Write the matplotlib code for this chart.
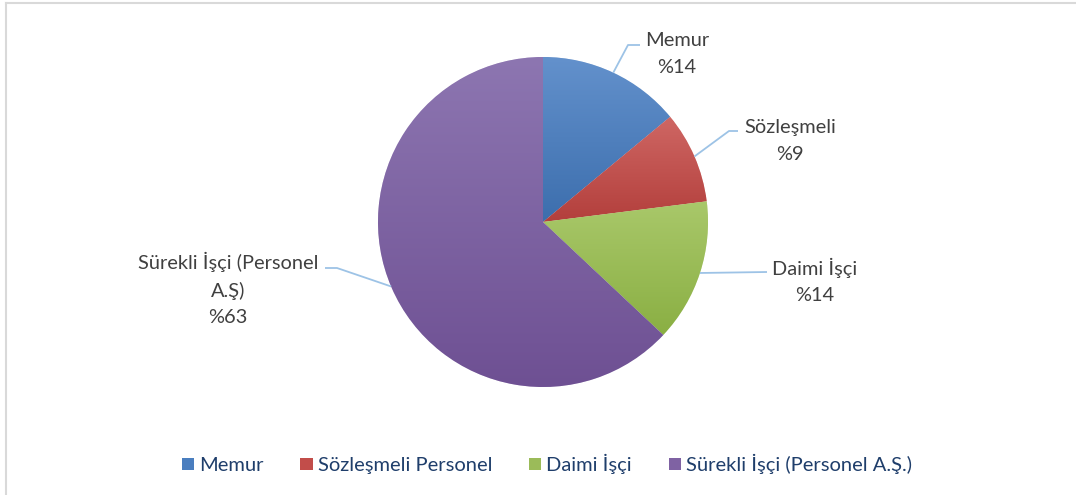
import numpy as np
import matplotlib
matplotlib.use("Agg")
import matplotlib.pyplot as plt
from matplotlib.patches import Patch
from matplotlib.colors import to_rgb
from matplotlib.lines import Line2D

categories = ["Memur", "Sözleşmeli Personel", "Daimi İşçi", "Sürekli İşçi (Personel A.Ş.)"]
values = [14, 9, 14, 63]
label_texts = ["Memur\n%14", "Sözleşmeli\n%9", "Daimi İşçi\n%14", "Sürekli İşçi (Personel\nA.Ş)\n%63"]

colors = ["#4A7EBF", "#C24D4A", "#9BBB59", "#7F62A3"]
tops = ["#6391CC", "#CF6764", "#A9C86A", "#8D76B1"]
bottoms = ["#3C6EAD", "#B33F3C", "#8AAF43", "#6E5093"]

plt.rcParams['font.family'] = ['Lato', 'DejaVu Sans']

W, H = 1076, 495
fig = plt.figure(figsize=(W / 100, H / 100), dpi=100)
ax = fig.add_axes([0, 0, 1, 1])

cx, cy, R = 543, H - 222, 165
wedges, _ = ax.pie(values, colors=colors, startangle=90, counterclock=False,
                   center=(cx, cy), radius=R, frame=True,
                   wedgeprops=dict(edgecolor="white", linewidth=0.4))
ax.set_xlim(0, W)
ax.set_ylim(0, H)
ax.axis('off')

# gradient fill per wedge
for w, t, b in zip(wedges, tops, bottoms):
    bb = w.get_path().get_extents(w.get_patch_transform())
    n = 256
    tc, bc = np.array(to_rgb(t)), np.array(to_rgb(b))
    f = np.linspace(0, 1, n)[:, None]
    grad = (tc * (1 - f) + bc * f)[:, None, :]
    im = ax.imshow(grad, extent=(bb.x0, bb.x1, bb.y0, bb.y1), origin='upper',
                   aspect='auto', zorder=1.5, interpolation='bilinear')
    im.set_clip_path(w)
    w.set_zorder(1)
ax.set_xlim(0, W)
ax.set_ylim(0, H)

# leader lines and labels (layout)
rim_angles = [64.8, 23.4, -18.0, 203.0]
elbows = [((628, 45), (640, 45)), ((729, 131), (738, 131)),
          ((767, 272), (767, 272)), ((337, 268), (325, 268))]
label_pos = [(677, 54), (790, 141), (815, 281), (228, 289)]
lc = "#9DC3E6"
for ang, (e1, e2), (lx, ly), txt in zip(rim_angles, elbows, label_pos, label_texts):
    a = np.deg2rad(ang)
    x0, y0 = cx + R * np.cos(a), cy + R * np.sin(a)
    ax.plot([x0, e1[0], e2[0]], [y0, H - e1[1], H - e2[1]], color=lc, lw=1.3,
            zorder=3, solid_capstyle='butt')
    ax.text(lx, H - ly, txt, ha='center', va='center', fontsize=14.4,
            color="#404040", linespacing=1.65, zorder=4)

# frame lines
ax.add_line(Line2D([6, W], [H - 2.5, H - 2.5], color="#D9D9D9", lw=1.5))
ax.add_line(Line2D([6, 6], [0, H - 2.5], color="#D9D9D9", lw=1.5))

handles = [Patch(facecolor=c, edgecolor='none') for c in colors]
leg = fig.legend(handles, categories, loc='center', bbox_to_anchor=(547 / W, 1 - 464 / H),
                 ncol=4, frameon=False, fontsize=14.5, handlelength=0.6, handleheight=0.6,
                 handletextpad=0.25, columnspacing=1.85, labelcolor="#1F3E6B")

fig.savefig("out.png", dpi=100)
